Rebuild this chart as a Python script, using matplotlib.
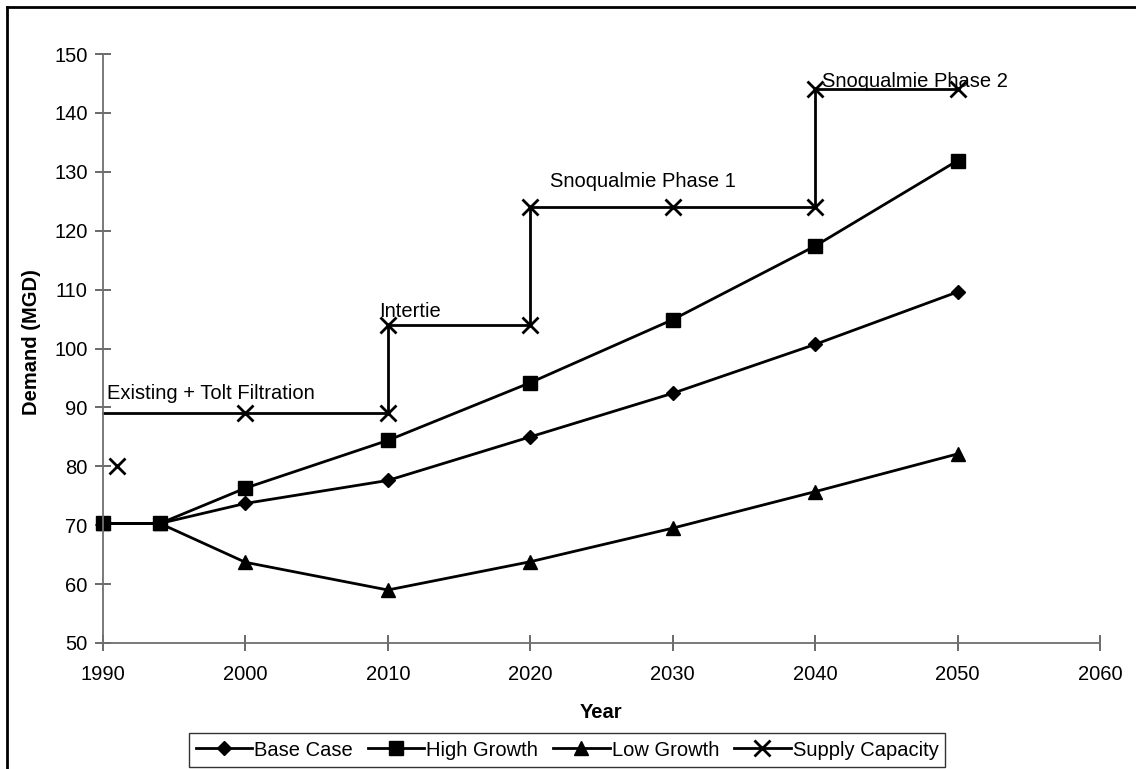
import numpy as np
import matplotlib
matplotlib.use('Agg')
import matplotlib.pyplot as plt
from matplotlib.lines import Line2D

plt.rcParams['font.family'] = ['Liberation Sans', 'DejaVu Sans']

# demand projections (MGD)
years = [1990, 1994, 2000, 2010, 2020, 2030, 2040, 2050]
base_case = [70.3, 70.3, 73.7, 77.6, 85.0, 92.4, 100.7, 109.6]
high_growth = [70.3, 70.3, 76.3, 84.4, 94.2, 104.9, 117.4, 131.9]
low_growth = [70.3, 70.3, 63.7, 59.0, 63.8, 69.5, 75.7, 82.1]

# supply capacity step line (nan splits the lone 1991 point off)
supply_years = [1991, np.nan, 1990, 2000, 2010, 2010, 2020, 2020, 2030, 2040, 2040, 2050]
supply_mgd = [80, np.nan, 89, 89, 89, 104, 104, 124, 124, 124, 144, 144]
supply_marks = [0, 3, 4, 5, 6, 7, 8, 9, 10, 11]

# capacity labels
notes = ['Existing + Tolt Filtration', 'Intertie', 'Snoqualmie Phase 1', 'Snoqualmie Phase 2']
note_x = [1990.3, 2009.4, 2021.4, 2040.5]
note_y = [92.4, 106.2, 128.3, 145.4]

fs = 14.5
lw = 2.0

fig = plt.figure(figsize=(11.36, 7.69), dpi=100)
ax = fig.add_axes([103 / 1136, 1 - 643 / 769, 997 / 1136, 589 / 769])

ax.plot(years, base_case, color='black', lw=lw, marker='D', ms=7.5, label='Base Case', clip_on=False)
ax.plot(years, high_growth, color='black', lw=lw, marker='s', ms=10, label='High Growth', clip_on=False)
ax.plot(years, low_growth, color='black', lw=lw, marker='^', ms=10, label='Low Growth', clip_on=False)
ax.plot(supply_years, supply_mgd, color='black', lw=lw, marker='x', ms=11, mew=2,
        markevery=supply_marks, label='Supply Capacity', clip_on=False)

for txt, x, y in zip(notes, note_x, note_y):
    ax.text(x, y, txt, fontsize=fs, ha='left', va='center', clip_on=False)

ax.set_xlim(1990, 2060)
ax.set_ylim(50, 150)
ax.set_xticks(range(1990, 2061, 10))
ax.set_yticks(range(50, 151, 10))

for s in ['top', 'right']:
    ax.spines[s].set_visible(False)
for s in ['left', 'bottom']:
    ax.spines[s].set_color('#707070')
    ax.spines[s].set_linewidth(1.3)
ax.tick_params(axis='both', direction='inout', length=12, width=1.2, color='#505050',
               labelsize=fs, labelcolor='black')
ax.tick_params(axis='x', pad=10)
ax.tick_params(axis='y', pad=5)

fig.text(601.5 / 1136, 1 - 712 / 769, 'Year', fontsize=fs, fontweight='bold', ha='center', va='center')
fig.text(32 / 1136, 1 - 342 / 769, 'Demand (MGD)', fontsize=fs, fontweight='bold',
         rotation=90, ha='center', va='center')

leg = fig.legend(loc='center', bbox_to_anchor=(567 / 1136, 1 - 750 / 769), ncol=4,
                 fontsize=fs, frameon=True, fancybox=False, edgecolor='black',
                 handlelength=2.8, handletextpad=0.1, columnspacing=0.75,
                 borderpad=0.35, borderaxespad=0)
leg.get_frame().set_linewidth(1.0)

# outer chart border
fig.add_artist(Line2D([7 / 1136, 7 / 1136], [0, 1 - 7 / 769], transform=fig.transFigure, color='black', lw=2))
fig.add_artist(Line2D([7 / 1136, 1], [1 - 7 / 769, 1 - 7 / 769], transform=fig.transFigure, color='black', lw=2))

fig.savefig('out.png', dpi=100)
